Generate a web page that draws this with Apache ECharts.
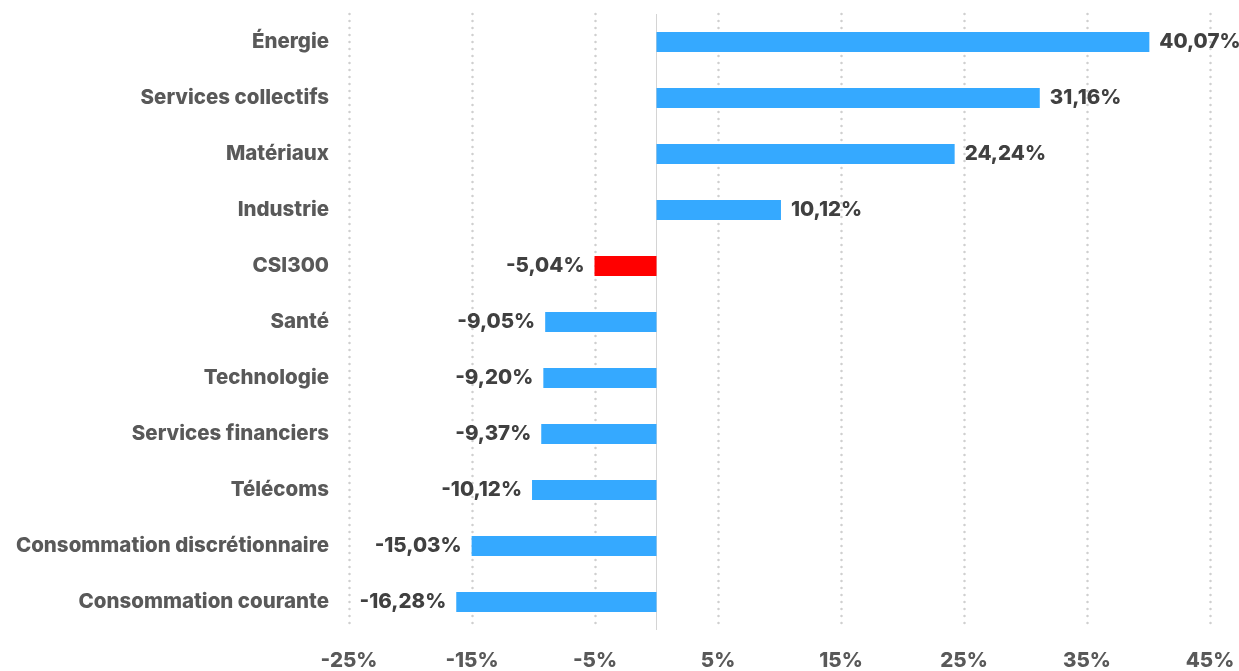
<!DOCTYPE html>
<html>
<head>
<meta charset="utf-8">
<script src="https://cdn.jsdelivr.net/npm/echarts@6/dist/echarts.min.js"></script>
<style>
  html, body { margin: 0; padding: 0; background: #fff; }
  #chart { width: 1239px; height: 671px; }
</style>
</head>
<body>
<div id="chart"></div>
<script>
  const categories = [
    'Énergie', 'Services collectifs', 'Matériaux', 'Industrie', 'CSI300',
    'Santé', 'Technologie', 'Services financiers', 'Télécoms',
    'Consommation discrétionnaire', 'Consommation courante'
  ]
  const values = [40.07, 31.16, 24.24, 10.12, -5.04, -9.05, -9.2, -9.37, -10.12, -15.03, -16.28]
  const xTicks = [-25, -15, -5, 5, 15, 25, 35, 45]
  const highlight = 'CSI300'

  const fmt = v => v.toFixed(2).replace('.', ',') + '%'
  const font = 'Inter, "Noto Sans", sans-serif'

  const chart = echarts.init(document.getElementById('chart'))

  const data = values.map((v, i) => ({
    value: v,
    itemStyle: { color: categories[i] === highlight ? '#ff0000' : '#35a9ff' },
    label: { position: v >= 0 ? 'right' : 'left' },
  }))

  // dotted gridlines on the labelled ticks + solid zero line
  const gridMarks = xTicks.map(t => ({
    xAxis: t,
    lineStyle: { color: '#cfcfcf', width: 2.5, type: [0.1, 6.9], cap: 'round' },
  }))
  gridMarks.push({ xAxis: 0, lineStyle: { color: '#d4d4d4', width: 1, type: 'solid', cap: 'butt' } })

  chart.setOption({
    animation: false,
    grid: { left: 349, right: 29, top: 14, bottom: 41 },
    xAxis: {
      type: 'value',
      min: -25,
      max: 45,
      interval: 5,
      splitLine: { show: false },
      axisLine: { show: false },
      axisTick: { show: false },
      axisLabel: {
        margin: 20,
        color: '#595959',
        fontFamily: font,
        fontWeight: 800,
        fontSize: 20.5,
        formatter: v => (xTicks.includes(v) ? v + '%' : ''),
      },
    },
    yAxis: {
      type: 'category',
      data: categories,
      inverse: true,
      axisLine: { show: false },
      axisTick: { show: false },
      splitLine: { show: false },
      axisLabel: {
        margin: 20,
        color: '#595959',
        fontFamily: font,
        fontWeight: 800,
        fontSize: 20.5,
      },
    },
    series: [
      {
        type: 'bar',
        barWidth: 20,
        data: data,
        label: {
          show: true,
          distance: 10,
          color: '#404040',
          fontFamily: font,
          fontWeight: 800,
          fontSize: 20.5,
          formatter: p => fmt(p.value),
        },
        markLine: {
          silent: true,
          symbol: 'none',
          label: { show: false },
          z: 1,
          data: gridMarks,
        },
      },
    ],
  })
</script>
</body>
</html>
